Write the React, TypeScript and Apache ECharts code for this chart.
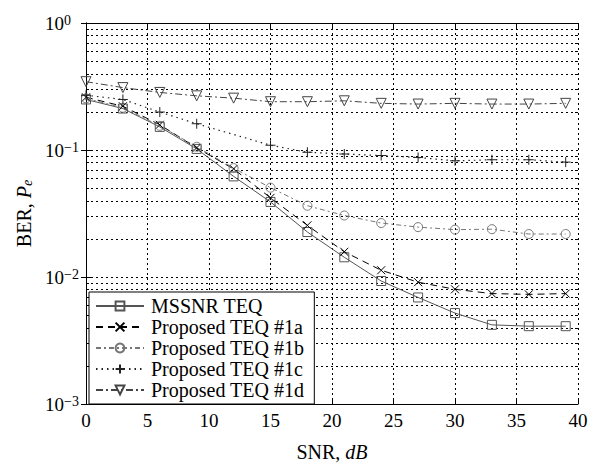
import React, { useEffect, useRef } from "react";
import * as echarts from "echarts";

const snr = [0, 3, 6, 9, 12, 15, 18, 21, 24, 27, 30, 33, 36, 39];
const snr1c = [0, 3, 6, 9, 15, 18, 21, 24, 27, 30, 33, 36, 39];
const mssnr = [0.25, 0.212, 0.152, 0.102, 0.062, 0.039, 0.0226, 0.0143, 0.0093, 0.0069, 0.0052, 0.0042, 0.0041, 0.0041];
const teq1a = [0.26, 0.221, 0.158, 0.104, 0.071, 0.042, 0.0255, 0.0158, 0.0113, 0.0091, 0.008, 0.0074, 0.0073, 0.0074];
const teq1b = [0.255, 0.215, 0.155, 0.106, 0.072, 0.0505, 0.0364, 0.0305, 0.0266, 0.0247, 0.0236, 0.0238, 0.0218, 0.0218];
const teq1c = [0.27, 0.25, 0.199, 0.161, 0.109, 0.096, 0.093, 0.0905, 0.0873, 0.0822, 0.0838, 0.0838, 0.0803];
const teq1d = [0.345, 0.31, 0.284, 0.267, 0.256, 0.24, 0.24, 0.244, 0.233, 0.23, 0.233, 0.23, 0.23, 0.233];
const seriesNames = ["MSSNR TEQ", "Proposed TEQ #1a", "Proposed TEQ #1b", "Proposed TEQ #1c", "Proposed TEQ #1d"];
const decades = [0.001, 0.01, 0.1];
const minorMultipliers = [2, 3, 4, 5, 6, 7, 8, 9];

const FONT = "Liberation Serif";
const X_PATH = "path://M0,0L10,10M10,0L0,10";
const PLUS_PATH = "path://M5,0L5,10M0,5L10,5";

export default function App() {
  const ref = useRef<HTMLDivElement>(null);
  useEffect(() => {
    if (!ref.current) return;
    const chart = echarts.init(ref.current, null, { renderer: "svg" });
    const pairs = (xs: number[], ys: number[]) => xs.map((x, i) => [x, ys[i]]);
    const minorVals: number[][] = [];
    decades.forEach((d) => minorMultipliers.forEach((m) => minorVals.push([0, m * d])));

    const hollow = (c: string) => ({ color: "rgba(0,0,0,0)", borderColor: c, borderWidth: 1 });

    const option: any = {
      animation: false,
      backgroundColor: "#fff",
      textStyle: { fontFamily: FONT },
      grid: { left: 86, right: 18, top: 23, bottom: 58 },
      legend: {
        data: seriesNames,
        orient: "vertical",
        left: 89,
        top: 292,
        itemWidth: 48,
        itemHeight: 11,
        itemGap: 1,
        padding: [4, 10, 4, 6],
        backgroundColor: "#fff",
        borderColor: "#000",
        borderWidth: 1,
        borderRadius: 0,
        textStyle: { fontFamily: FONT, fontSize: 20, lineHeight: 20, color: "#000", padding: [0, 0, 0, 2] },
      },
      xAxis: [
        {
          type: "value",
          min: 0,
          max: 40,
          interval: 5,
          name: "SNR, {i|dB}",
          nameLocation: "middle",
          nameGap: 38,
          nameTextStyle: {
            fontFamily: FONT,
            fontSize: 20,
            color: "#000",
            rich: { i: { fontFamily: FONT, fontSize: 20, fontStyle: "italic", color: "#000" } },
          },
          axisLine: { lineStyle: { color: "#000", width: 1 } },
          axisTick: { inside: true, length: 5, lineStyle: { color: "#000" } },
          axisLabel: { fontFamily: FONT, fontSize: 19, color: "#000", margin: 7 },
          splitLine: { show: true, lineStyle: { color: "#000", type: [2, 3], width: 1 } },
        },
        {
          type: "value",
          position: "top",
          min: 0,
          max: 40,
          interval: 5,
          axisLine: { lineStyle: { color: "#000", width: 1 } },
          axisTick: { inside: true, length: 5, lineStyle: { color: "#000" } },
          axisLabel: { show: false },
          splitLine: { show: false },
        },
      ],
      yAxis: [
        {
          type: "log",
          logBase: 10,
          min: 0.001,
          max: 1,
          name: "BER, {i|P}{s|e}",
          nameLocation: "middle",
          nameGap: 50,
          nameTextStyle: {
            fontFamily: FONT,
            fontSize: 20,
            color: "#000",
            rich: {
              i: { fontFamily: FONT, fontSize: 20, fontStyle: "italic", color: "#000" },
              s: { fontFamily: FONT, fontSize: 14, fontStyle: "italic", color: "#000", verticalAlign: "bottom", padding: [7, 0, 0, 0] },
            },
          },
          axisLine: { lineStyle: { color: "#000", width: 1 } },
          axisTick: { inside: true, length: 5, lineStyle: { color: "#000" } },
          axisLabel: {
            margin: 41,
            align: "left",
            formatter: (v: number) => {
              const e = Math.round(Math.log10(v));
              const es = e < 0 ? "\u2212" + Math.abs(e) : String(e);
              return "{b|10}{s|" + es + "}";
            },
            rich: {
              b: { fontFamily: FONT, fontSize: 19, color: "#000", lineHeight: 20, verticalAlign: "middle" },
              s: { fontFamily: FONT, fontSize: 14, color: "#000", lineHeight: 12, verticalAlign: "top" },
            },
          },
          splitLine: { show: true, lineStyle: { color: "#000", type: [2, 3], width: 1 } },
        },
        {
          type: "log",
          logBase: 10,
          min: 0.001,
          max: 1,
          position: "right",
          axisLine: { lineStyle: { color: "#000", width: 1 } },
          axisTick: { inside: true, length: 5, lineStyle: { color: "#000" } },
          axisLabel: { show: false },
          splitLine: { show: false },
        },
      ],
      series: [
        {
          type: "custom",
          name: "minorGrid",
          silent: true,
          z: 1,
          xAxisIndex: 0,
          yAxisIndex: 0,
          encode: { x: 0, y: 1 },
          data: minorVals,
          renderItem: (params: any, api: any) => {
            const cs = params.coordSys;
            const y = Math.round(api.coord([0, api.value(1)])[1]) + 0.5;
            return {
              type: "group",
              children: [
                { type: "line", shape: { x1: cs.x, y1: y, x2: cs.x + cs.width, y2: y }, style: { stroke: "#000", lineWidth: 1, lineDash: [2, 3] } },
                { type: "line", shape: { x1: cs.x, y1: y, x2: cs.x + 3, y2: y }, style: { stroke: "#000", lineWidth: 1 } },
                { type: "line", shape: { x1: cs.x + cs.width - 3, y1: y, x2: cs.x + cs.width, y2: y }, style: { stroke: "#000", lineWidth: 1 } },
              ],
            };
          },
        },
        {
          type: "line",
          name: seriesNames[0],
          data: pairs(snr, mssnr),
          z: 5,
          symbol: "rect",
          symbolSize: 9,
          lineStyle: { color: "#555", width: 1, type: "solid" },
          itemStyle: hollow("#555"),
        },
        {
          type: "line",
          name: seriesNames[1],
          data: pairs(snr, teq1a),
          z: 5,
          symbol: X_PATH,
          symbolSize: 8,
          lineStyle: { color: "#000", width: 1, type: [7, 5] },
          itemStyle: hollow("#000"),
        },
        {
          type: "line",
          name: seriesNames[2],
          data: pairs(snr, teq1b),
          z: 5,
          symbol: "circle",
          symbolSize: 9,
          lineStyle: { color: "#777", width: 1, type: [5, 3, 2, 3] },
          itemStyle: hollow("#777"),
        },
        {
          type: "line",
          name: seriesNames[3],
          data: pairs(snr1c, teq1c),
          z: 5,
          symbol: PLUS_PATH,
          symbolSize: 10,
          lineStyle: { color: "#222", width: 1.2, type: [1.5, 4] },
          itemStyle: hollow("#222"),
        },
        {
          type: "line",
          name: seriesNames[4],
          data: pairs(snr, teq1d),
          z: 5,
          symbol: "triangle",
          symbolRotate: 180,
          symbolSize: 10,
          lineStyle: { color: "#444", width: 1, type: [7, 3, 2, 3] },
          itemStyle: hollow("#444"),
        },
      ],
    };
    chart.setOption(option);
    return () => chart.dispose();
  }, []);
  return <div ref={ref} style={{ position: "absolute", left: 0, top: 0, width: 596, height: 467 }} />;
}
